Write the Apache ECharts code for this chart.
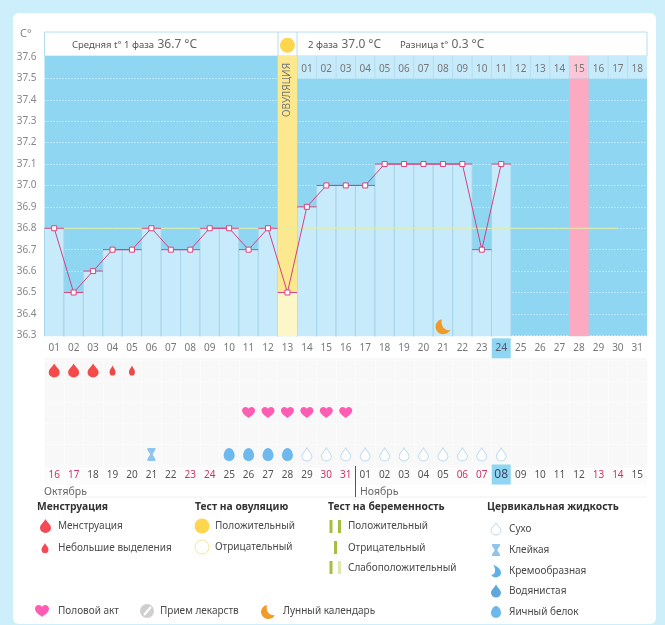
<!DOCTYPE html>
<html>
<head>
    <meta charset="utf-8">
    <title>График температуры</title>
    <script src="https://cdn.jsdelivr.net/npm/echarts@6/dist/echarts.min.js"></script>
    <style>
        html, body { margin: 0; padding: 0; background: #cdeefb; }
        #card { position: absolute; left: 13px; top: 13px; width: 643px; height: 611px; background: #fff; border-radius: 6px; }
        #chart { position: absolute; left: 0; top: 0; width: 665px; height: 625px; }
    </style>
</head>
<body>
<div id="card"></div>
<div id="chart"></div>
<script>
    // дни цикла
    var cycleDays = ['01','02','03','04','05','06','07','08','09','10','11','12','13','14','15','16','17','18','19','20','21','22','23','24','25','26','27','28','29','30','31'];
    var phaseTwoDays = ['','','','','','','','','','','','','','01','02','03','04','05','06','07','08','09','10','11','12','13','14','15','16','17','18'];
    var calendarDays = ['16','17','18','19','20','21','22','23','24','25','26','27','28','29','30','31','01','02','03','04','05','06','07','08','09','10','11','12','13','14','15'];
    var weekendDays = ['16','17','23','24','30','31','06','07','13','14'];
    var todayCycle = '24';
    var todayDate = '08';

    // базальная температура
    var temperatures = [36.8,36.5,36.6,36.7,36.7,36.8,36.7,36.7,36.8,36.8,36.7,36.8,36.5,36.9,37.0,37.0,37.0,37.1,37.1,37.1,37.1,37.1,36.7,37.1];
    var coverLine = [36.8,36.8,36.8,36.8,36.8,36.8,36.8,36.8,36.8,36.8,36.8,36.8,36.8,36.8,36.8,36.8,36.8,36.8,36.8,36.8,36.8,36.8,36.8,36.8,36.8,36.8,36.8,36.8,36.8,36.8];
    var ovulationDay = 13;
    var expectedDay = 28;
    var moonDays = [21];

    // отметки по дням цикла
    var menstruationDays = [1,2,3];
    var spottingDays = [4,5];
    var sexDays = [11,12,13,14,15,16];
    var stickyDays = [6];
    var eggWhiteDays = [10,11,12,13];
    var dryDays = [14,15,16,17,18,19,20,21,22,23,24];

    var phaseOneAvg = '36.7 °C', phaseTwoAvg = '37.0 °C', avgDiff = '0.3 °C';

    var DROP = 'M10 0C13 6 20 10 20 16A10 9 0 0 1 0 16C0 10 7 6 10 0Z';
    var EGG = 'M10 0C16 0 20 8 20 14A10 10 0 0 1 0 14C0 8 4 0 10 0Z';
    var HEART = 'M12 22C8 18 0 14 0 7C0 3 3 0 6.5 0C9 0 11 1.5 12 3.5C13 1.5 15 0 17.5 0C21 0 24 3 24 7C24 14 16 18 12 22Z';
    var MOON = 'M9 0A10 10 0 1 0 20 14C14 16 7 10 9 0Z';
    var GLASS = 'M0 0H12V2C12 5 8 8 8 10C8 12 12 15 12 18V20H0V18C0 15 4 12 4 10C4 8 0 5 0 2Z';
    var CREAM = 'M7 0C12 3 20 8 20 15A9 9 0 0 1 3 19C9 19 13 13 7 0Z';

    var FONT = '"Noto Sans", sans-serif';
    var chart = echarts.init(document.getElementById('chart'));

    function marks(days, row, path, w, h, color, border) {
        return {
            type: 'scatter', xAxisIndex: 2, yAxisIndex: 1, symbol: 'path://' + path,
            symbolSize: [w, h], silent: true,
            itemStyle: { color: color, borderColor: border || color, borderWidth: border ? 1 : 0, opacity: 1 },
            data: days.map(function (d) { return [d - 1, row]; })
        };
    }

    // столбец от низа оси до значения
    function renderBars(params, api) {
        var i = api.value(0), w = api.size([1, 0])[0];
        var top = api.coord([i, api.value(1)]), base = api.coord([i, 36.3]);
        var x = top[0] - w / 2;
        return { type: 'group', children: [
            { type: 'rect', shape: { x: x, y: top[1], width: w, height: base[1] - top[1] + 1 }, style: { fill: '#c8ebfb' } },
            { type: 'line', shape: { x1: x, y1: top[1], x2: x, y2: base[1] + 1 }, style: { stroke: '#a6d4ea', lineWidth: 1 } },
            { type: 'line', shape: { x1: x + w, y1: top[1], x2: x + w, y2: base[1] + 1 }, style: { stroke: '#a6d4ea', lineWidth: 1 } }
        ] };
    }

    function renderOvulation(params, api) {
        var i = api.value(0), w = api.size([1, 0])[0];
        var mid = api.coord([i, api.value(1)]), top = api.coord([i, 37.605]), base = api.coord([i, 36.3]);
        var x = mid[0] - w / 2;
        return { type: 'group', children: [
            { type: 'rect', shape: { x: x, y: top[1], width: w, height: mid[1] - top[1] }, style: { fill: '#fce88f' } },
            { type: 'rect', shape: { x: x, y: mid[1], width: w, height: base[1] - mid[1] + 1 }, style: { fill: '#fdf6c8' } }
        ] };
    }

    function renderExpected(params, api) {
        var i = api.value(0), w = api.size([1, 0])[0];
        var top = api.coord([i, 37.5]), base = api.coord([i, 36.3]);
        return { type: 'rect', shape: { x: top[0] - w / 2, y: top[1], width: w, height: base[1] - top[1] + 1 }, style: { fill: '#fcaac2' } };
    }

    // полоса с номерами дней второй фазы
    function renderStrip(params, api) {
        var i = api.value(0), w = api.size([1, 0])[0];
        var top = api.coord([i, 37.605]), bot = api.coord([i, 37.5]);
        var x = top[0] - w / 2;
        return { type: 'group', children: [
            { type: 'rect', shape: { x: x, y: top[1], width: w, height: bot[1] - top[1] }, style: { fill: i === expectedDay - 1 ? '#fbc6d6' : '#c8ebfb' } },
            { type: 'line', shape: { x1: x, y1: top[1], x2: x, y2: bot[1] }, style: { stroke: '#b4def0', lineWidth: 1 } }
        ] };
    }

    function renderTicks(params, api) {
        var i = api.value(0), w = api.size([1, 0])[0], p = api.coord([i, api.value(1)]);
        return { type: 'line', shape: { x1: p[0] - w / 2, y1: p[1], x2: p[0] + w / 2, y2: p[1] }, style: { stroke: '#d8447d', lineWidth: 1 } };
    }

    function txt(x, y, text, size, weight, fill) {
        return { type: 'text', x: x, y: y, silent: true, style: { text: text, font: (weight || 'normal') + ' ' + size + 'px ' + FONT, fill: fill || '#4a4a4a', verticalAlign: 'middle' } };
    }
    function icon(path, cx, cy, w, h, fill, stroke) {
        return { type: 'path', shape: { pathData: path, layout: 'cover', x: cx - w / 2, y: cy - h / 2, width: w, height: h }, style: { fill: fill, stroke: stroke || null, lineWidth: 1 } };
    }
    function bar(x, y, h, fill) {
        return { type: 'rect', silent: true, shape: { x: x, y: y, width: 3, height: h }, style: { fill: fill } };
    }
    function headerText(x, label, value) {
        return { type: 'text', x: x, y: 45, silent: true, style: { text: '{a|' + label + '} {b|' + value + '}', verticalAlign: 'middle',
            rich: { a: { font: '9.5px ' + FONT, fill: '#555' }, b: { font: '12px ' + FONT, fill: '#666' } } } };
    }

    var panels = [
        { type: 'rect', z: -1, silent: true, shape: { x: 44.5, y: 32, width: 602.5, height: 24 }, style: { fill: '#fff', stroke: '#b4def0', lineWidth: 1 } },
        { type: 'rect', z: -1, silent: true, shape: { x: 44.5, y: 56, width: 602.5, height: 280 }, style: { fill: '#8fd6f3' } },
        { type: 'rect', z: -1, silent: true, shape: { x: 44.5, y: 358, width: 602.5, height: 109 }, style: { fill: '#f8f8f8' } },
        { type: 'rect', z: -1, silent: true, shape: { x: 44.5, y: 467, width: 602.5, height: 18 }, style: { fill: '#fcfcfc' } },
        { type: 'line', z: -1, silent: true, shape: { x1: 278, y1: 32, x2: 278, y2: 56 }, style: { stroke: '#b4def0' } },
        { type: 'line', z: -1, silent: true, shape: { x1: 297, y1: 32, x2: 297, y2: 56 }, style: { stroke: '#b4def0' } },
        { type: 'line', silent: true, shape: { x1: 44, y1: 497, x2: 647, y2: 497 }, style: { stroke: '#f0f0f0' } },
        { type: 'line', silent: true, shape: { x1: 355.5, y1: 466, x2: 355.5, y2: 497 }, style: { stroke: '#555' } }
    ];

    var labels = [
        txt(20, 34, 'C°', 11, 'normal', '#888'),
        headerText(72, 'Средняя t° 1 фаза', phaseOneAvg),
        headerText(308, '2 фаза', phaseTwoAvg),
        headerText(400, 'Разница t°', avgDiff),
        { type: 'text', x: 287, y: 90, z: 10, rotation: Math.PI / 2, silent: true, style: { text: 'ОВУЛЯЦИЯ', font: '10px ' + FONT, fill: '#777', align: 'center', verticalAlign: 'middle' } },
        txt(44, 492, 'Октябрь', 10.5, 'normal', '#666'),
        txt(360, 492, 'Ноябрь', 10.5, 'normal', '#666'),

        txt(37, 507, 'Менструация', 10.3, 'bold', '#333'),
        txt(195, 507, 'Тест на овуляцию', 10.3, 'bold', '#333'),
        txt(328, 507, 'Тест на беременность', 10.3, 'bold', '#333'),
        txt(487, 507, 'Цервикальная жидкость', 10.3, 'bold', '#333'),

        txt(58, 526, 'Менструация', 10),
        txt(58, 548, 'Небольшие выделения', 10),

        { type: 'circle', silent: true, shape: { cx: 202, cy: 526, r: 7.5 }, style: { fill: '#fdd54f' } },
        txt(215, 526, 'Положительный', 10),
        { type: 'circle', silent: true, shape: { cx: 202, cy: 547, r: 7 }, style: { fill: '#fff', stroke: '#f0e79a', lineWidth: 1 } },
        txt(215, 547, 'Отрицательный', 10),

        bar(329.5, 520, 13, '#a4bf3f'), bar(338, 520, 13, '#a4bf3f'),
        txt(348, 526, 'Положительный', 10),
        bar(334, 541, 13, '#a4bf3f'),
        txt(348, 548, 'Отрицательный', 10),
        bar(329.5, 561, 13, '#a4bf3f'), bar(338, 561, 13, '#dfe8b0'),
        txt(348, 568, 'Слабоположительный', 10),

        txt(509, 529, 'Сухо', 10),
        txt(509, 550, 'Клейкая', 10),
        txt(509, 571, 'Кремообразная', 10),
        txt(509, 591, 'Водянистая', 10),
        txt(509, 612, 'Яичный белок', 10),

        txt(58, 611, 'Половой акт', 10),
        { type: 'circle', silent: true, shape: { cx: 147, cy: 611, r: 7 }, style: { fill: '#cfcfcf' } },
        { type: 'line', silent: true, shape: { x1: 144, y1: 615, x2: 151, y2: 607 }, style: { stroke: '#fff', lineWidth: 2 } },
        txt(160, 611, 'Прием лекарств', 10),
        txt(283, 611, 'Лунный календарь', 10)
    ];

    // значки легенды
    var legendIcons = [
        icon(DROP, 45.5, 526, 11, 14, '#f44a55'),
        icon(DROP, 45, 548, 7, 10, '#f44a55'),
        icon(DROP, 496, 529, 10, 12, '#fff', '#bcd9ea'),
        icon(GLASS, 496, 550, 8, 12, '#8fc5ec'),
        icon(CREAM, 496, 571, 10, 13, '#5fb0e8'),
        icon(DROP, 496, 591, 10, 13, '#5fa8dc'),
        icon(EGG, 496, 612, 10, 12, '#6db9ee'),
        icon(HEART, 42, 611, 14, 12, '#ff5cb4'),
        icon(MOON, 268, 612, 14, 14, '#f09a28')
    ];

    chart.setOption({
        animation: false,
        textStyle: { fontFamily: FONT },
        graphic: { elements: panels.concat(labels) },
        grid: [
            { left: 44.5, top: 57, width: 602.5, height: 278.3 },
            { left: 44.5, top: 360, width: 602.5, height: 105, show: false }
        ],
        xAxis: [
            {
                type: 'category', gridIndex: 0, data: cycleDays, position: 'bottom',
                axisLine: { show: false }, axisTick: { show: false },
                axisLabel: {
                    interval: 0, margin: 3, color: '#777', fontSize: 10, lineHeight: 20,
                    formatter: function (v) { return v === todayCycle ? '{sel|' + v + '}' : '{n|' + v + '}'; },
                    rich: {
                        n: { height: 20, lineHeight: 20, fontSize: 10, color: '#777' },
                        sel: { width: 19, height: 20, lineHeight: 20, align: 'center', backgroundColor: '#8fd6f3', fontSize: 10.5, color: '#556' }
                    }
                }
            },
            {
                type: 'category', gridIndex: 0, data: phaseTwoDays, position: 'top', z: 5,
                axisLine: { show: false }, axisTick: { show: false },
                axisLabel: { interval: 0, inside: true, margin: 7, color: '#777', fontSize: 10 }
            },
            {
                type: 'category', gridIndex: 1, data: calendarDays, position: 'bottom',
                axisLine: { show: false }, axisTick: { show: false },
                splitLine: { show: true, interval: 0, lineStyle: { color: '#fbfbfb' } },
                axisLabel: {
                    interval: 0, margin: 0, fontSize: 10, lineHeight: 19,
                    formatter: function (v) {
                        if (v === todayDate) return '{sel|' + v + '}';
                        return weekendDays.indexOf(v) >= 0 ? '{we|' + v + '}' : '{n|' + v + '}';
                    },
                    rich: {
                        n: { height: 21, lineHeight: 21, fontSize: 10, color: '#555' },
                        we: { height: 21, lineHeight: 21, fontSize: 10, color: '#cc3366' },
                        sel: { width: 19, height: 20, lineHeight: 19, align: 'center', backgroundColor: '#8fd6f3', fontSize: 12, color: '#446' }
                    }
                }
            }
        ],
        yAxis: [
            {
                type: 'value', gridIndex: 0, min: 36.3, max: 37.6, interval: 0.1,
                axisLine: { show: false }, axisTick: { show: false },
                axisLabel: { margin: 8, color: '#888', fontSize: 10, formatter: function (v) { return v.toFixed(1); } },
                splitLine: { show: true, showMaxLine: false, lineStyle: { color: '#fff', type: [1, 2], opacity: 0.75 } }
            },
            {
                type: 'category', gridIndex: 1, inverse: true, data: ['a', 'b', 'c', 'd', 'e'],
                axisLine: { show: false }, axisTick: { show: false }, axisLabel: { show: false },
                splitLine: { show: true, interval: 0, lineStyle: { color: '#fbfbfb' } }
            }
        ],
        series: [
            { type: 'custom', z: 1, silent: true, renderItem: renderStrip, data: cycleDays.map(function (d, i) { return [i]; }).slice(ovulationDay) },
            { type: 'custom', z: 1, silent: true, renderItem: renderExpected, data: [[expectedDay - 1]] },
            { type: 'custom', z: 1, silent: true, renderItem: renderBars, data: temperatures.map(function (v, i) { return [i, v]; }) },
            { type: 'custom', z: 1, silent: true, renderItem: renderOvulation, data: [[ovulationDay - 1, temperatures[ovulationDay - 1]]] },
            { type: 'line', z: 2, silent: true, data: coverLine, symbol: 'none', lineStyle: { color: '#e4ee9e', width: 1 } },
            { type: 'custom', z: 3, silent: true, renderItem: renderTicks, data: temperatures.map(function (v, i) { return [i, v]; }) },
            {
                type: 'line', z: 4, silent: true, data: temperatures, symbol: 'rect', symbolSize: 5, showAllSymbol: true,
                lineStyle: { color: '#cf4380', width: 1 },
                itemStyle: { color: '#fff', borderColor: '#d8447d', borderWidth: 1 }
            },
            {
                type: 'scatter', z: 4, silent: true, clip: false, symbol: 'circle', symbolSize: 15,
                itemStyle: { color: '#fdd54f', opacity: 1 }, data: [[ovulationDay - 1, 37.655]]
            },
            {
                type: 'scatter', z: 4, silent: true, symbol: 'path://' + MOON, symbolSize: 15,
                itemStyle: { color: '#f09a28', opacity: 1 }, data: moonDays.map(function (d) { return [d - 1, 36.34]; })
            },
            marks(menstruationDays, 0, DROP, 11, 14, '#f44a4a'),
            marks(spottingDays, 0, DROP, 6, 10, '#ea4a4a'),
            marks(sexDays, 2, HEART, 13, 11, '#ff5cb4'),
            marks(stickyDays, 4, GLASS, 8, 13, '#8fc5ec'),
            marks(eggWhiteDays, 4, EGG, 11, 13, '#6db9ee'),
            marks(dryDays, 4, DROP, 10, 13, '#fff', '#bcd9ea'),
            {
                type: 'custom', coordinateSystem: 'none', silent: true, data: [[0]],
                renderItem: function () { return { type: 'group', children: legendIcons }; }
            }
        ]
    });

    window.onresize = function () {
        chart.resize();
    };
</script>
</body>
</html>
